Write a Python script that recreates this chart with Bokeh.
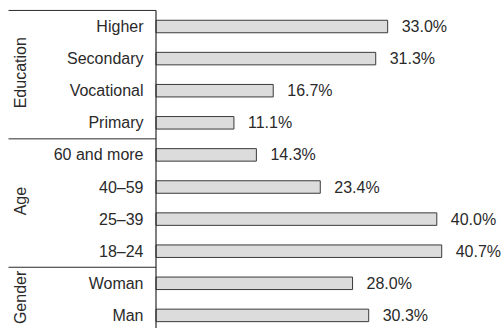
import numpy as np
from bokeh.plotting import figure
from bokeh.models import Range1d, ColumnDataSource
from bokeh.core.properties import value
from bokeh.embed import file_html
from bokeh.resources import INLINE

# ---- data ----
groups = ["Education", "Age", "Gender"]
group_items = [
    ["Higher", "Secondary", "Vocational", "Primary"],
    ["60 and more", "40–59", "25–39", "18–24"],
    ["Woman", "Man"],
]
values = [33.0, 31.3, 16.7, 11.1, 14.3, 23.4, 40.0, 40.7, 28.0, 30.3]
value_labels = ["33.0%", "31.3%", "16.7%", "11.1%", "14.3%", "23.4%", "40.0%", "40.7%", "28.0%", "30.3%"]

# ---- layout/style ----
W, H = 502, 328
PX_X = 7.02          # pixels per percent
X0 = 155.5           # pixel of zero
ROW = 32.1           # pixels per row
Y_FIRST = 26.0       # pixel centre of first row
FONT = value("Liberation Sans")
FS = "16px"
TXT = "#2a2a2a"
LINE = "#2a2a2a"

cats = [c for g in group_items for c in g]
idx = np.arange(len(cats))

x_range = Range1d(-X0 / PX_X, (W - X0) / PX_X)
y_range = Range1d((H - Y_FIRST) / ROW, -Y_FIRST / ROW)

p = figure(width=W, height=H, x_range=x_range, y_range=y_range,
           output_backend="svg", toolbar_location=None, min_border=0)
p.axis.visible = False
p.grid.visible = False
p.outline_line_color = None
p.background_fill_color = "white"
p.border_fill_color = "white"

src = ColumnDataSource(dict(y=idx, v=values, lab=value_labels, cat=cats,
                            lx=np.array(values) + 14 / PX_X,
                            cx=np.full(len(cats), -12.5 / PX_X)))

p.hbar(y="y", left=0, right="v", height=12.5 / ROW, source=src,
       fill_color="#dcdcdc", line_color="#3a3a3a", line_width=1)

p.text(x="lx", y="y", text="lab", source=src, text_font=FONT, text_font_size=FS,
       text_color=TXT, text_align="left", text_baseline="middle")
p.text(x="cx", y="y", text="cat", source=src, text_font=FONT, text_font_size=FS,
       text_color=TXT, text_align="right", text_baseline="middle")

# group separators and labels
bounds = np.cumsum([0] + [len(g) for g in group_items]) - 0.5
sep_y = bounds[:-1]
p.segment(x0=-147.5 / PX_X, x1=0, y0=sep_y, y1=sep_y, line_color=LINE, line_width=1)
p.segment(x0=[0], x1=[0], y0=[bounds[0]], y1=[(H + 5 - Y_FIRST) / ROW],
          line_color=LINE, line_width=1.2)

gy = [(bounds[i] + bounds[i + 1]) / 2 - 0.06 for i in range(len(groups))]
p.text(x=[-135.5 / PX_X] * len(groups), y=gy, text=groups, angle=np.pi / 2,
       text_font=FONT, text_font_size=FS, text_color=TXT,
       text_align="center", text_baseline="middle")

open("out.html", "w").write(file_html(p, INLINE))
